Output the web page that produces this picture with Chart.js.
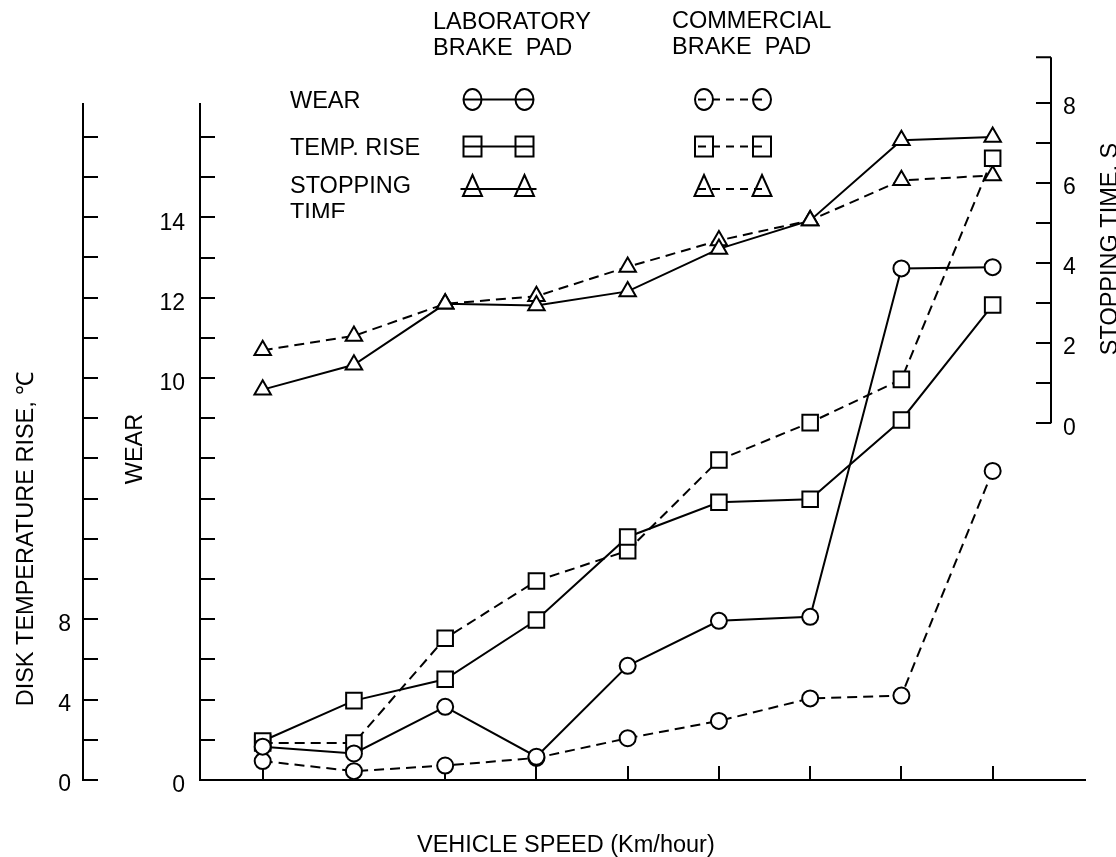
<!DOCTYPE html>
<html>
<head>
<meta charset="utf-8">
<title>Brake pad test: wear, temperature rise, stopping time</title>
<script src="https://cdn.jsdelivr.net/npm/chart.js@4.4.1/dist/chart.umd.min.js"></script>
<style>
  html, body { margin: 0; padding: 0; background: #fff; }
  #wrap { width: 1116px; height: 857px; }
</style>
</head>
<body>
<div id="wrap"><canvas id="brakeChart" width="1116" height="857"></canvas></div>
<script>
// speed steps along the x axis (the original plot prints no speed values)
const speedSteps = [1, 2, 3, 4, 5, 6, 7, 8, 9];

// wear
const labWear = [0.83, 0.66, 1.82, 0.58, 2.84, 3.96, 4.06, 12.73, 12.76];
const comWear = [0.47, 0.22, 0.36, 0.55, 1.04, 1.47, 2.03, 2.10, 7.69];

// disk temperature rise, deg C
const labTemp = [1.94, 3.95, 5.01, 7.96, 12.09, 13.82, 13.97, 17.91, 23.63];
const comTemp = [1.84, 1.84, 7.05, 9.90, 11.41, 15.92, 17.78, 19.93, 30.93];

// stopping time, s
const labStop = [0.84, 1.46, 2.98, 2.94, 3.29, 4.35, 5.06, 7.06, 7.14];
const comStop = [1.82, 2.18, 2.98, 3.17, 3.90, 4.56, 5.06, 6.06, 6.18];

// printed tick labels
const tempTickLabels = [0, 4, 8];
const wearTickLabels = [0, 10, 12, 14];
const stopTickLabels = [0, 2, 4, 6, 8];

const FONT = "'Liberation Sans', Arial, sans-serif";
Chart.defaults.font.family = FONT;
Chart.defaults.color = '#000';

const toPoints = (values) => values.map((v, i) => ({ x: speedSteps[i], y: v }));

function series(label, values, axis, style, radius, dashed) {
  return {
    label: label,
    data: toPoints(values),
    yAxisID: axis,
    borderColor: '#000',
    borderWidth: 2,
    borderDash: dashed ? [10, 6] : [],
    pointStyle: style,
    pointRadius: radius,
    pointBorderWidth: 2,
    pointBorderColor: '#000',
    pointBackgroundColor: '#fff',
    tension: 0,
    fill: false,
  };
}

const axisGrid = (len) => ({ drawOnChartArea: false, drawTicks: true, tickLength: len, color: '#000', lineWidth: 2 });
const axisBorder = { display: true, color: '#000', width: 2 };

// right hand stopping time axis only covers the upper half, so it is drawn here
const stopAxis = {
  id: 'stopAxis',
  afterDraw(chart) {
    const s = chart.scales.stop;
    const ctx = chart.ctx;
    const x = 1051;
    const top = s.getPixelForValue(9.13);
    const last = stopTickLabels[stopTickLabels.length - 1];
    ctx.save();
    ctx.strokeStyle = '#000';
    ctx.lineWidth = 2;
    ctx.beginPath();
    ctx.moveTo(x, top);
    ctx.lineTo(x, s.getPixelForValue(0));
    ctx.moveTo(x - 15, top);
    ctx.lineTo(x, top);
    for (let v = 0; v <= last; v++) {
      const y = Math.round(s.getPixelForValue(v));
      ctx.moveTo(x - 15, y);
      ctx.lineTo(x, y);
    }
    ctx.stroke();
    ctx.fillStyle = '#000';
    ctx.font = '23px ' + FONT;
    ctx.textAlign = 'left';
    ctx.textBaseline = 'middle';
    stopTickLabels.forEach((v) => ctx.fillText(String(v), x + 12, s.getPixelForValue(v) + 5));
    ctx.restore();
  }
};

function vText(ctx, text, x, y) {
  ctx.save();
  ctx.translate(x, y);
  ctx.rotate(-Math.PI / 2);
  ctx.textAlign = 'center';
  ctx.textBaseline = 'alphabetic';
  ctx.fillText(text, 0, 0);
  ctx.restore();
}

function marker(ctx, shape, x, y) {
  ctx.beginPath();
  if (shape === 'circle') {
    ctx.ellipse(x, y, 9, 10.5, 0, 0, Math.PI * 2);
  } else if (shape === 'rect') {
    ctx.rect(x - 9, y - 10, 18, 20);
  } else {
    ctx.moveTo(x, y - 11);
    ctx.lineTo(x + 9.5, y + 10);
    ctx.lineTo(x - 9.5, y + 10);
    ctx.closePath();
  }
  ctx.fill();
  ctx.stroke();
}

const legendBlock = {
  id: 'legendBlock',
  afterDraw(chart) {
    const ctx = chart.ctx;
    ctx.save();
    ctx.fillStyle = '#000';
    ctx.strokeStyle = '#000';
    ctx.font = '23.5px ' + FONT;
    ctx.textAlign = 'left';
    ctx.textBaseline = 'alphabetic';

    // axis titles
    vText(ctx, 'DISK TEMPERATURE RISE, \u2103', 32.5, 539);
    vText(ctx, 'WEAR', 141.5, 449);
    vText(ctx, 'STOPPING TIME, S', 1117, 249);
    ctx.fillText('VEHICLE SPEED (Km/hour)', 417, 852);

    // key
    ctx.fillText('LABORATORY', 433, 29);
    ctx.fillText('BRAKE  PAD', 433, 55);
    ctx.fillText('COMMERCIAL', 672, 28);
    ctx.fillText('BRAKE  PAD', 672, 54);
    ctx.fillText('WEAR', 290, 108);
    ctx.fillText('TEMP. RISE', 290, 155);
    ctx.fillText('STOPPING', 290, 193);
    ctx.save();
    ctx.beginPath();
    ctx.rect(280, 196, 120, 22);
    ctx.clip();
    ctx.fillText('TIME', 290, 220);
    ctx.restore();

    const rows = [
      { shape: 'circle', y: 99.5, line: 99.5 },
      { shape: 'rect', y: 146.5, line: 146.5 },
      { shape: 'triangle', y: 186, line: 189 },
    ];
    ctx.lineWidth = 2;
    rows.forEach((r) => {
      ctx.fillStyle = '#fff';
      ctx.setLineDash([]);
      marker(ctx, r.shape, 472.5, r.y);
      marker(ctx, r.shape, 524.5, r.y);
      const ext = r.shape === 'triangle' ? 12 : 9;
      ctx.beginPath();
      ctx.moveTo(472.5 - ext, r.line);
      ctx.lineTo(524.5 + ext, r.line);
      ctx.stroke();

      marker(ctx, r.shape, 704, r.y);
      marker(ctx, r.shape, 762, r.y);
      ctx.setLineDash([8, 6]);
      ctx.beginPath();
      ctx.moveTo(698, r.line);
      ctx.lineTo(768, r.line);
      ctx.stroke();
    });
    ctx.restore();
  }
};

new Chart(document.getElementById('brakeChart'), {
  type: 'line',
  data: {
    datasets: [
      series('Wear, laboratory pad', labWear, 'wear', 'circle', 8, false),
      series('Wear, commercial pad', comWear, 'wear', 'circle', 8, true),
      series('Temp. rise, laboratory pad', labTemp, 'temp', 'rect', 11, false),
      series('Temp. rise, commercial pad', comTemp, 'temp', 'rect', 11, true),
      series('Stopping time, laboratory pad', labStop, 'stop', 'triangle', 9.5, false),
      series('Stopping time, commercial pad', comStop, 'stop', 'triangle', 9.5, true),
    ],
  },
  options: {
    responsive: false,
    animation: false,
    devicePixelRatio: 1,
    layout: { padding: { left: 0, right: 31, top: 104, bottom: 0 } },
    plugins: {
      legend: { display: false },
      tooltip: { enabled: false },
    },
    scales: {
      x: {
        type: 'linear',
        min: 0.313,
        max: 10.012,
        afterBuildTicks: (s) => { s.ticks = speedSteps.map((v) => ({ value: v })); },
        afterFit: (s) => { s.height = 77; },
        ticks: { display: false },
        grid: axisGrid(-14),
        border: axisBorder,
      },
      temp: {
        type: 'linear',
        position: 'left',
        weight: 1,
        min: 0,
        max: 33.63,
        afterFit: (s) => { s.width = 83; },
        ticks: {
          stepSize: 2,
          includeBounds: false,
          autoSkip: false,
          padding: 27,
          labelOffset: 5,
          font: { size: 23 },
          callback: (v) => (tempTickLabels.includes(v) ? String(v) : ''),
        },
        grid: axisGrid(-15),
        border: axisBorder,
      },
      wear: {
        type: 'linear',
        position: 'left',
        weight: 0,
        min: 0,
        max: 16.82,
        afterFit: (s) => { s.width = 117; },
        ticks: {
          stepSize: 1,
          includeBounds: false,
          autoSkip: false,
          padding: 30,
          labelOffset: 6,
          font: { size: 23 },
          callback: (v) => (wearTickLabels.includes(v) ? String(v) : ''),
        },
        grid: axisGrid(-15),
        border: axisBorder,
      },
      stop: {
        type: 'linear',
        position: 'right',
        display: false,
        min: -8.895,
        max: 7.963,
      },
    },
  },
  plugins: [stopAxis, legendBlock],
});
</script>
</body>
</html>
